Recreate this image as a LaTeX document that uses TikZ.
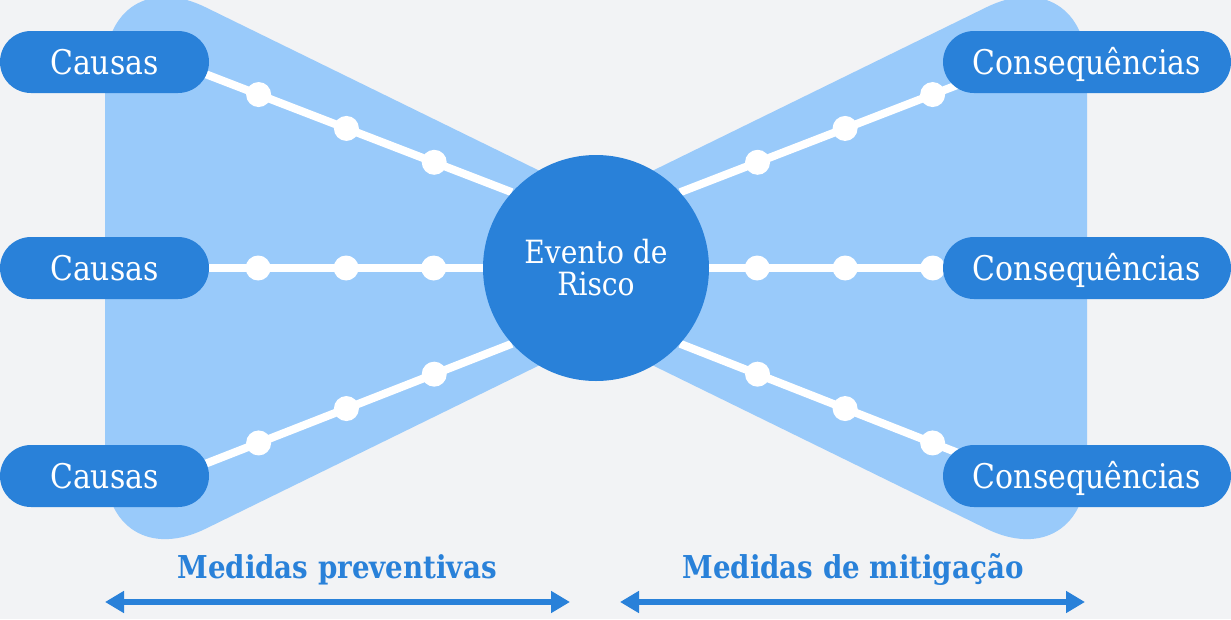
\documentclass[tikz,border=0pt]{standalone}
\usepackage{fontspec}
\setmainfont{DejaVu Serif}[FakeStretch=0.88]
\usepackage{tikz}
\usetikzlibrary{arrows.meta,backgrounds}

\definecolor{azul}{HTML}{2981D9}
\definecolor{azulclaro}{HTML}{99CAFA}
\definecolor{fundo}{HTML}{F2F3F5}

\tikzset{
  pilula/.style={rectangle,rounded corners=31pt,fill=azul,text=white,minimum height=62pt,inner sep=0pt,text height=24pt,text depth=0pt,font=\fontsize{34}{40}\selectfont},
  evento/.style={circle,fill=azul,text=white,minimum size=226pt,inner sep=0pt,align=center,font=\fontsize{32}{32}\selectfont},
  laco/.style={fill=azulclaro,rounded corners=112pt},
  elo/.style={draw=white,line width=8pt},
  ponto/.style={circle,fill=white,minimum size=25pt,inner sep=0pt},
  medida/.style={text=azul,anchor=base,font=\bfseries\fontsize{31.5}{36}\selectfont},
  seta/.style={draw=azul,line width=6.5pt,{Triangle[length=19pt,width=21pt]}-{Triangle[length=19pt,width=21pt]}},
}

\begin{document}
\begin{tikzpicture}[x=1pt,y=-1pt]
	\useasboundingbox (0,0) rectangle (1231,619);
	% descrição e nomeação dos nós
	\node (EVENTO) at (596,268) [evento] {Evento de\\Risco};
	\node (CAUSA1) at (104.5,62) [pilula,minimum width=209pt] {Causas};
	\node (CAUSA2) at (104.5,268) [pilula,minimum width=209pt] {Causas};
	\node (CAUSA3) at (104.5,476) [pilula,minimum width=209pt] {Causas};
	\node (CONS1) at (1087,62) [pilula,minimum width=288pt] {Consequências};
	\node (CONS2) at (1087,268) [pilula,minimum width=288pt] {Consequências};
	\node (CONS3) at (1087,476) [pilula,minimum width=288pt] {Consequências};
	% fundo, laço e ligações por baixo dos nós
	\begin{scope}[on background layer]
		\fill[fundo] (0,0) rectangle (1231,619);
		\fill[laco] (105,268) -- (105,-42) -- (738,268) -- (105,578) -- cycle;
		\fill[laco] (1087,268) -- (1087,-42) -- (454,268) -- (1087,578) -- cycle;
		\draw[elo] ([xshift=-35pt]CAUSA1.east) -- node[ponto,pos=.25] (P11) {} node[ponto,pos=.51] (P12) {} node[ponto,pos=.77] (P13) {} (EVENTO.138);
		\draw[elo] ([xshift=-35pt]CAUSA2.east) -- node[ponto,pos=.272] (P21) {} node[ponto,pos=.557] (P22) {} node[ponto,pos=.841] (P23) {} (EVENTO.west);
		\draw[elo] ([xshift=-35pt]CAUSA3.east) -- node[ponto,pos=.25] (P31) {} node[ponto,pos=.51] (P32) {} node[ponto,pos=.77] (P33) {} (EVENTO.222);
		\draw[elo] ([xshift=74pt]CONS1.west) -- node[ponto,pos=.25] (Q11) {} node[ponto,pos=.51] (Q12) {} node[ponto,pos=.77] (Q13) {} (EVENTO.42);
		\draw[elo] ([xshift=74pt]CONS2.west) -- node[ponto,pos=.273] (Q21) {} node[ponto,pos=.558] (Q22) {} node[ponto,pos=.844] (Q23) {} (EVENTO.east);
		\draw[elo] ([xshift=74pt]CONS3.west) -- node[ponto,pos=.25] (Q31) {} node[ponto,pos=.51] (Q32) {} node[ponto,pos=.77] (Q33) {} (EVENTO.-42);
	\end{scope}
	% medidas e setas
	\node (PREV) at (337,578) [medida] {Medidas preventivas};
	\node (MITIG) at (853,578) [medida] {Medidas de mitigação};
	\coordinate (PREVESQ) at (105,602);
	\coordinate (PREVDIR) at (570,602);
	\coordinate (MITIGESQ) at (620,602);
	\coordinate (MITIGDIR) at (1085,602);
	\draw[seta] (PREVESQ) -- (PREVDIR);
	\draw[seta] (MITIGESQ) -- (MITIGDIR);
\end{tikzpicture}
\end{document}
